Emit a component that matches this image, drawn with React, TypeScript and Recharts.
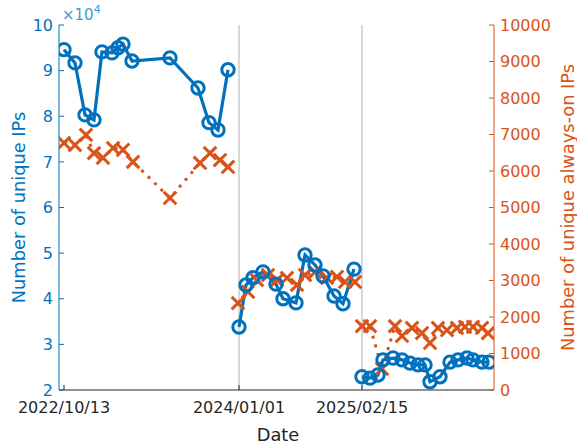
import React from 'react';
import { ComposedChart, Line, XAxis, YAxis, ReferenceLine } from 'recharts';

const BLUE = '#0072BD';
const ORANGE = '#D95319';
const DARK = '#262626';
const FONT = 'DejaVu Sans';

// x positions are sample positions along the (non-linear) date axis
const xTickPos = [0, 35, 59.6];
const xTickLabels = ['2022/10/13', '2024/01/01', '2025/02/15'];
const leftTicks = [20000, 30000, 40000, 50000, 60000, 70000, 80000, 90000, 100000];
const rightTicks = [0, 1000, 2000, 3000, 4000, 5000, 6000, 7000, 8000, 9000, 10000];

// Number of unique IPs (blue), three measurement campaigns
const ipsT1 = [0, 2.2, 4.2, 6, 7.6, 9.6, 10.8, 11.8, 13.6, 21.2, 26.8, 29, 30.8, 32.8];
const ipsV1 = [94600, 91700, 80300, 79200, 94100, 93900, 95000, 95800, 92100, 92800, 86200, 78600, 77000, 90200];
const ipsT2 = [35, 36.4, 37.8, 39.8, 42.4, 43.8, 46.4, 48.2, 50.2, 51.8, 54, 55.8, 58];
const ipsV2 = [33800, 43000, 44600, 45900, 43200, 40000, 39100, 49600, 47400, 45000, 40600, 38900, 46500];
const ipsT3 = [59.6, 61.2, 62.8, 63.8, 65.8, 67.6, 69.2, 70.8, 72.2, 73.2, 75.2, 77.2, 78.8, 80.6, 81.8, 83.6, 85];
const ipsV3 = [22900, 22600, 23300, 26600, 27000, 26600, 25900, 25500, 25500, 21800, 22900, 26100, 26600, 27000, 26600, 26100, 26100];

// Number of unique always-on IPs (orange)
const aoT1 = [0, 2.2, 4.4, 6, 7.8, 9.8, 11.8, 13.8, 21.2, 27.2, 29.2, 31.2, 32.8];
const aoV1 = [6770, 6710, 6990, 6490, 6360, 6630, 6580, 6250, 5260, 6220, 6490, 6300, 6110];
const aoT2 = [34.8, 36.8, 38.6, 40.8, 42.6, 44.6, 46.6, 48.2, 50.2, 52.6, 54.6, 56.2, 58.2];
const aoV2 = [2380, 2690, 3010, 3150, 3010, 3070, 2880, 3150, 3230, 3070, 3100, 2960, 2960];
const aoT3 = [59.6, 61.2, 63.6, 66.2, 67.6, 69.6, 71.6, 73.2, 74.8, 76.6, 78.6, 80.2, 81.8, 83.6, 84.8];
const aoV3 = [1750, 1750, 580, 1750, 1480, 1700, 1560, 1290, 1700, 1640, 1700, 1730, 1730, 1700, 1560];

const zip = (ts: number[], vs: number[]) => ts.map((t, i) => ({ t, v: vs[i] }));

const blueSegs = [zip(ipsT1, ipsV1), zip(ipsT2, ipsV2), zip(ipsT3, ipsV3)];
const orangeSegs = [zip(aoT1, aoV1), zip(aoT2, aoV2), zip(aoT3, aoV3)];

const CircleDot = (p: any) => {
  if (p.cx == null || p.cy == null) return <g key={p.key} />;
  return <circle key={p.key} cx={p.cx} cy={p.cy} r={6.2} fill="none" stroke={BLUE} strokeWidth={3} />;
};

const CrossDot = (p: any) => {
  if (p.cx == null || p.cy == null) return <g key={p.key} />;
  const s = 6.3;
  return (
    <g key={p.key}>
      <line x1={p.cx - s} y1={p.cy - s} x2={p.cx + s} y2={p.cy + s} stroke={ORANGE} strokeWidth={3} />
      <line x1={p.cx - s} y1={p.cy + s} x2={p.cx + s} y2={p.cy - s} stroke={ORANGE} strokeWidth={3} />
    </g>
  );
};

export default function App() {
  return (
    <div style={{ position: 'absolute', left: 0, top: 0, width: 577, height: 443, background: '#fff' }}>
      <ComposedChart width={577} height={443} margin={{ top: 25, right: 23, bottom: 23, left: 19 }}>
        <XAxis
          xAxisId="b"
          type="number"
          dataKey="t"
          domain={[-1, 86]}
          ticks={xTickPos}
          interval={0}
          tickFormatter={(v: number) => xTickLabels[xTickPos.indexOf(v)] ?? ''}
          height={30}
          axisLine={{ stroke: DARK }}
          tickLine={{ stroke: DARK }}
          tickSize={-5}
          tickMargin={17}
          tick={{ fill: DARK, fontSize: 16, fontFamily: FONT }}
          allowDataOverflow
        />
        <XAxis
          xAxisId="top"
          orientation="top"
          type="number"
          dataKey="t"
          domain={[-1, 86]}
          ticks={xTickPos}
          interval={0}
          tickFormatter={() => ''}
          height={0}
          axisLine={{ stroke: DARK }}
          tickLine={{ stroke: DARK }}
          tickSize={-5}
          allowDataOverflow
        />
        <YAxis
          yAxisId="left"
          type="number"
          domain={[20000, 100000]}
          ticks={leftTicks}
          interval={0}
          tickFormatter={(v: number) => String(v / 10000)}
          width={40}
          axisLine={{ stroke: BLUE }}
          tickLine={{ stroke: BLUE }}
          tickSize={-5}
          tickMargin={11}
          tick={{ fill: BLUE, fontSize: 16, fontFamily: FONT }}
          allowDataOverflow
        />
        <YAxis
          yAxisId="right"
          orientation="right"
          type="number"
          domain={[0, 10000]}
          ticks={rightTicks}
          interval={0}
          width={60}
          axisLine={{ stroke: ORANGE }}
          tickLine={{ stroke: ORANGE }}
          tickSize={-5}
          tickMargin={11}
          tick={{ fill: ORANGE, fontSize: 16, fontFamily: FONT, textAnchor: 'start' }}
          allowDataOverflow
        />
        {xTickPos.slice(1).map((x) => (
          <ReferenceLine key={x} xAxisId="b" yAxisId="left" x={x} stroke="#b0b0b0" strokeWidth={1} />
        ))}
        {orangeSegs.map((d, i) => (
          <Line
            key={'o' + i}
            data={d}
            xAxisId="b"
            yAxisId="right"
            dataKey="v"
            type="linear"
            stroke={ORANGE}
            strokeWidth={3}
            strokeDasharray="3 6"
            dot={CrossDot}
            activeDot={false}
            isAnimationActive={false}
          />
        ))}
        {blueSegs.map((d, i) => (
          <Line
            key={'b' + i}
            data={d}
            xAxisId="b"
            yAxisId="left"
            dataKey="v"
            type="linear"
            stroke={BLUE}
            strokeWidth={3.2}
            dot={CircleDot}
            activeDot={false}
            isAnimationActive={false}
          />
        ))}
        <text x={62} y={20} fill="#4a98d6" fontSize={15} fontFamily={FONT}>
          ×10<tspan dy={-7} fontSize={11}>4</tspan>
        </text>
        <text
          transform="translate(18,207.5) rotate(-90)"
          textAnchor="middle"
          dominantBaseline="central"
          fill={BLUE}
          fontSize={17.8}
          fontFamily={FONT}
        >
          Number of unique IPs
        </text>
        <text
          transform="translate(567,207.5) rotate(-90)"
          textAnchor="middle"
          dominantBaseline="central"
          fill={ORANGE}
          fontSize={17.8}
          fontFamily={FONT}
        >
          Number of unique always-on IPs
        </text>
        <text x={278} y={434} textAnchor="middle" dominantBaseline="central" fill={DARK} fontSize={17.8} fontFamily={FONT}>
          Date
        </text>
      </ComposedChart>
    </div>
  );
}
